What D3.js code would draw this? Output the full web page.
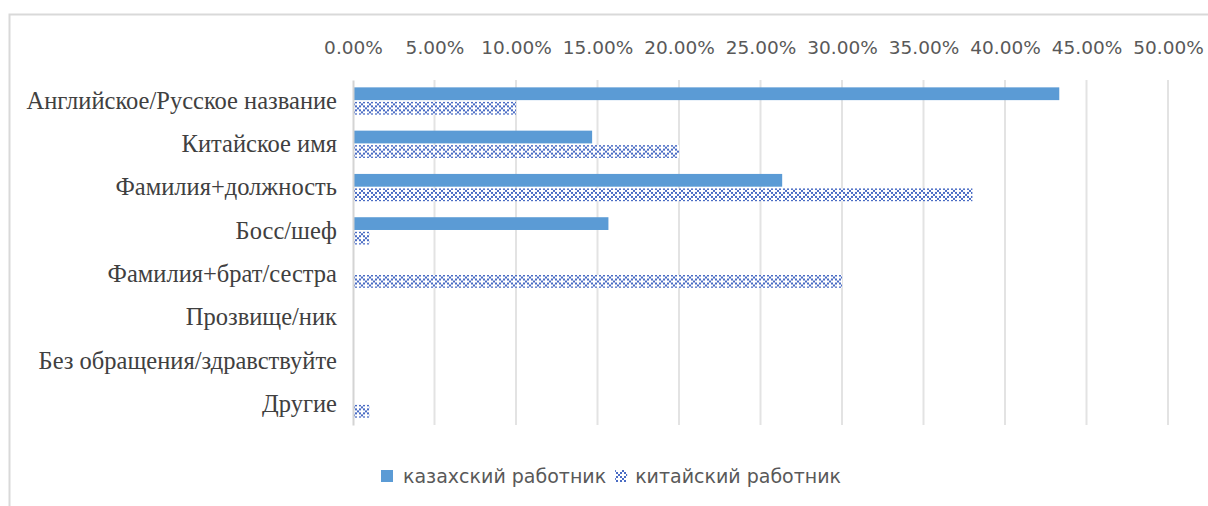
<!DOCTYPE html>
<html>
<head>
<meta charset="utf-8">
<script src="https://cdn.jsdelivr.net/npm/d3@7"></script>
<style>
  body { margin: 0; background: #fff; }
  svg { display: block; }
</style>
</head>
<body>
<svg id="chart" width="1208" height="506"></svg>
<script>
const categories = [
  "Английское/Русское название",
  "Китайское имя",
  "Фамилия+должность",
  "Босс/шеф",
  "Фамилия+брат/сестра",
  "Прозвище/ник",
  "Без обращения/здравствуйте",
  "Другие"
];
const kazakhValues = [0.4333, 0.1467, 0.2633, 0.1567, 0, 0, 0, 0];
const chineseValues = [0.10, 0.20, 0.38, 0.01, 0.30, 0, 0, 0.01];
const seriesNames = ["казахский работник", "китайский работник"];
const xTicks = [0, 0.05, 0.10, 0.15, 0.20, 0.25, 0.30, 0.35, 0.40, 0.45, 0.50];

const svg = d3.select("#chart");
const width = +svg.attr("width");
const height = +svg.attr("height");
const margin = { top: 80, right: 40, bottom: 81, left: 353 };

const blue = "#5b9bd5";
const patternColor = "#4a6cc4";

// dotted diamond hatch, like the excel fill
const defs = svg.append("defs");
const pat = defs.append("pattern")
  .attr("id", "dotDmnd")
  .attr("patternUnits", "userSpaceOnUse")
  .attr("patternTransform", "translate(1,0)")
  .attr("width", 8)
  .attr("height", 8);
pat.append("rect").attr("width", 8).attr("height", 8).attr("fill", "#fff");
[[0, 0], [2, 2], [6, 2], [4, 4], [2, 6], [6, 6]].forEach(p => {
  pat.append("rect")
    .attr("x", p[0]).attr("y", p[1])
    .attr("width", 2).attr("height", 2)
    .attr("fill", patternColor);
});

// outer border
svg.append("rect")
  .attr("x", 9.5).attr("y", 14.5)
  .attr("width", width).attr("height", height)
  .attr("fill", "none")
  .attr("stroke", "#d9d9d9")
  .attr("stroke-width", 2);

const x = d3.scaleLinear()
  .domain([0, 0.5])
  .range([margin.left, 1168]);

const y = d3.scaleBand()
  .domain(categories)
  .range([margin.top, height - margin.bottom])
  .paddingInner(0.37)
  .paddingOuter(0.17);

const y1 = d3.scaleBand()
  .domain(seriesNames)
  .range([0, y.bandwidth()])
  .paddingInner(0.12);

// gridlines
svg.append("g")
  .selectAll("line")
  .data(xTicks.slice(1))
  .enter()
  .append("line")
  .attr("x1", d => x(d)).attr("x2", d => x(d))
  .attr("y1", margin.top).attr("y2", height - margin.bottom)
  .attr("stroke", "#e3e3e3")
  .attr("stroke-width", 2);

// top axis labels
const xAxis = svg.append("g")
  .attr("transform", `translate(0,${margin.top})`)
  .call(d3.axisTop(x).tickValues(xTicks).tickFormat(d => (d * 100).toFixed(2) + "%").tickSize(0).tickPadding(26));
xAxis.select(".domain").remove();
xAxis.selectAll("text")
  .attr("font-family", "'DejaVu Sans', sans-serif")
  .attr("font-size", 18.5)
  .attr("fill", "#595959");

const rows = categories.map((c, i) => ({ cat: c, k: kazakhValues[i], c: chineseValues[i] }));

const groups = svg.append("g")
  .selectAll("g")
  .data(rows)
  .enter()
  .append("g")
  .attr("transform", d => `translate(0,${y(d.cat)})`);

groups.append("rect")
  .attr("x", x(0))
  .attr("y", y1(seriesNames[0]))
  .attr("width", d => x(d.k) - x(0))
  .attr("height", y1.bandwidth())
  .attr("fill", blue);

groups.append("rect")
  .attr("x", x(0))
  .attr("y", y1(seriesNames[1]))
  .attr("width", d => x(d.c) - x(0))
  .attr("height", y1.bandwidth())
  .attr("fill", "url(#dotDmnd)");

// category axis
const yAxis = svg.append("g")
  .attr("transform", `translate(${margin.left},0)`)
  .call(d3.axisLeft(y).tickSize(0).tickPadding(16));
yAxis.select(".domain")
  .attr("stroke", "#d4d4d4")
  .attr("stroke-width", 2);
yAxis.selectAll("text")
  .attr("font-family", "'Liberation Serif', 'Times New Roman', serif")
  .attr("font-size", 24.5)
  .attr("fill", "#404040");

// legend
const legend = svg.append("g").attr("transform", "translate(381,470)");
legend.append("rect").attr("width", 12).attr("height", 12).attr("fill", blue);
const t1 = legend.append("text")
  .attr("x", 22).attr("y", 6).attr("dy", "0.35em")
  .attr("font-family", "'DejaVu Sans', sans-serif")
  .attr("font-size", 19)
  .attr("fill", "#595959")
  .text(seriesNames[0]);
const x2 = 22 + t1.node().getComputedTextLength() + 9;
legend.append("rect").attr("x", x2).attr("width", 12).attr("height", 12).attr("fill", "url(#dotDmnd)");
legend.append("text")
  .attr("x", x2 + 20).attr("y", 6).attr("dy", "0.35em")
  .attr("font-family", "'DejaVu Sans', sans-serif")
  .attr("font-size", 19)
  .attr("fill", "#595959")
  .text(seriesNames[1]);
</script>
</body>
</html>
